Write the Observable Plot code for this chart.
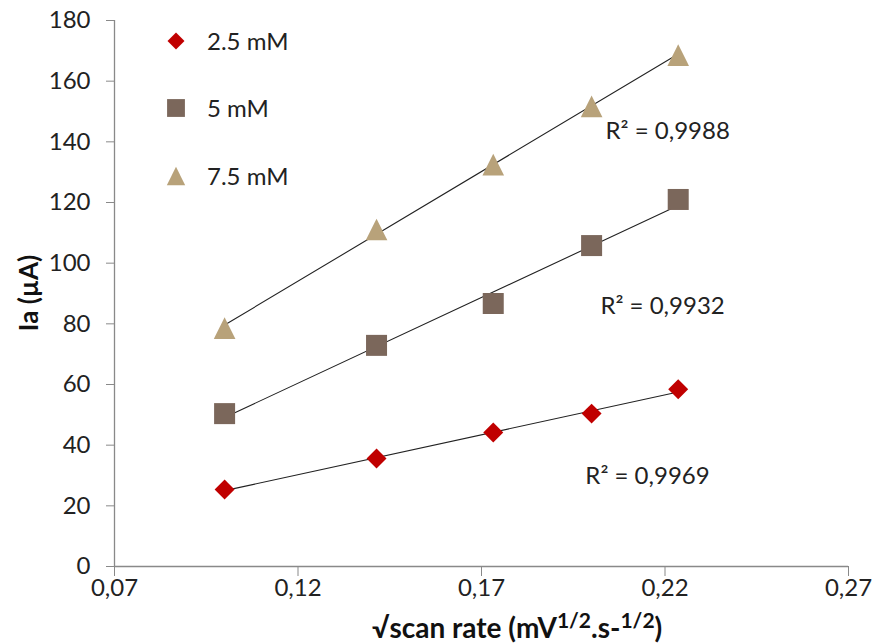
<!DOCTYPE html>
<html><head><meta charset="utf-8">
<script src="https://cdn.jsdelivr.net/npm/d3@7"></script>
<script src="https://cdn.jsdelivr.net/npm/@observablehq/plot@0.6"></script>
<style>
body{margin:0;background:#fff;}
#chart{position:relative;width:872px;height:643px;overflow:hidden;}
</style>
</head><body><div id="chart"></div>
<script>
// ---- data ----
const scanRate = [0.1, 0.1414, 0.1732, 0.2, 0.2236];
const seriesNames = ["2.5 mM", "5 mM", "7.5 mM"];
const ia_2_5 = [25.4, 35.6, 44.2, 50.4, 58.4];
const ia_5 = [50.4, 72.9, 86.7, 105.8, 121.0];
const ia_7_5 = [78.6, 111.1, 132.5, 151.7, 168.6];
const r2Values = ["0,9969", "0,9932", "0,9988"];
const xTicks = [0.07, 0.12, 0.17, 0.22, 0.27];
const yTicks = [0, 20, 40, 60, 80, 100, 120, 140, 160, 180];

// ---- layout / styles ----
const colors = ["#C00000", "#7B675B", "#B8A27A"];
const r2Pos = [[0.1983, 29.7], [0.2024, 85.7], [0.2038, 143.4]];
const axisGray = "#898989";
const textCol = "#222";
const font = "Lato, 'Open Sans', sans-serif";
const fs = 24;

const triSym = {draw(ctx, size){const h = Math.sqrt(size) * 0.5; ctx.moveTo(0, -h); ctx.lineTo(h, h); ctx.lineTo(-h, h); ctx.closePath();}};
const symbols = ["diamond2", "square", triSym];
const radii = [9, 11.85, 12.2];

const allSeries = [ia_2_5, ia_5, ia_7_5];
const rows = [];
allSeries.forEach((arr, i) => arr.forEach((v, j) => rows.push({x: scanRate[j], y: v, s: seriesNames[i], i})));

const r2Rows = r2Values.map((v, i) => ({x: r2Pos[i][0], y: r2Pos[i][1], t: "R² = " + v}));

const marks = [
  Plot.ruleY([0], {stroke: axisGray, strokeWidth: 1.3}),
  Plot.ruleX([0.07], {stroke: axisGray, strokeWidth: 1.3}),
  Plot.axisX({ticks: xTicks, tickSize: 10, tickPadding: 2, stroke: axisGray, fill: textCol,
    tickFormat: d => d.toFixed(2).replace(".", ","), label: null, fontSize: fs}),
  Plot.axisY({ticks: yTicks, tickSize: 8, tickPadding: 16, stroke: axisGray, fill: textCol,
    label: null, fontSize: fs}),
  Plot.linearRegressionY(rows, {x: "x", y: "y", z: "s", stroke: "#222", strokeWidth: 1.1, ci: 0})
];
seriesNames.forEach((name, i) => {
  marks.push(Plot.dot(rows.filter(d => d.i === i), {x: "x", y: "y", symbol: symbols[i], r: radii[i], fill: colors[i], stroke: "none"}));
});
marks.push(Plot.text(r2Rows, {x: "x", y: "y", text: "t", textAnchor: "start", fontSize: fs, fill: textCol}));

const chart = Plot.plot({
  width: 872, height: 643,
  marginLeft: 114, marginRight: 24, marginTop: 20, marginBottom: 77,
  x: {domain: [0.07, 0.27]},
  y: {domain: [0, 180]},
  style: {fontFamily: font, fontSize: fs + "px", background: "#fff", color: textCol},
  marks
});
document.getElementById("chart").appendChild(chart);

const svg = d3.select(chart);
// x title
const xt = svg.append("text").attr("x", 372).attr("y", 638).attr("text-anchor", "start")
  .attr("font-family", font).attr("font-weight", "bold").attr("font-size", 28).attr("fill", "#111");
xt.append("tspan").text("√scan rate (mV");
xt.append("tspan").attr("dy", -10).attr("font-size", 21).text("1/2");
xt.append("tspan").attr("dy", 10).text(".s-");
xt.append("tspan").attr("dy", -10).attr("font-size", 21).text("1/2");
xt.append("tspan").attr("dy", 10).text(")");
// y title
svg.append("text").attr("transform", "translate(38,293) rotate(-90)").attr("text-anchor", "middle")
  .attr("font-family", font).attr("font-weight", "bold").attr("font-size", 26).attr("fill", "#111")
  .text("Ia (µA)");
// legend
const leg = svg.append("g");
const legY = [41, 108, 176];
seriesNames.forEach((name, i) => {
  const size = Math.PI * radii[i] * radii[i] * 0.72;
  const sym = i === 0 ? d3.symbolDiamond2 : i === 1 ? d3.symbolSquare : triSym;
  leg.append("path").attr("transform", `translate(176,${legY[i]})`)
    .attr("d", d3.symbol(sym, size)()).attr("fill", colors[i]);
  leg.append("text").attr("x", 207).attr("y", legY[i]).attr("dy", "0.36em").attr("text-anchor", "start")
    .attr("font-family", font).attr("font-size", fs).attr("fill", textCol).text(name);
});
</script>
</body></html>
